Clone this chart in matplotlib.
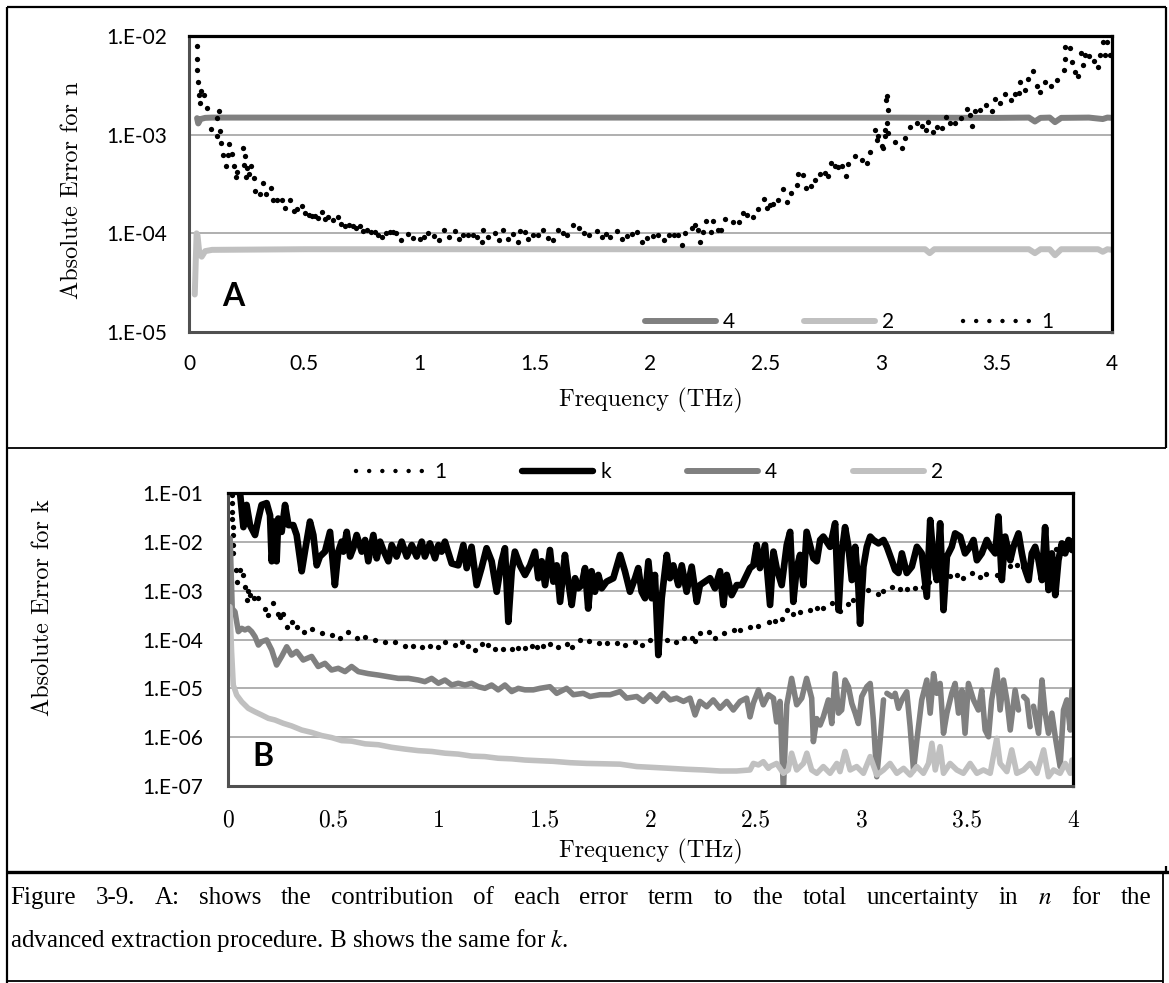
import numpy as np
import matplotlib
matplotlib.use("Agg")
import matplotlib.pyplot as plt
from matplotlib.lines import Line2D
from matplotlib.ticker import NullLocator

plt.rcParams['font.family'] = ['Lato', 'DejaVu Sans']
plt.rcParams['mathtext.fontset'] = 'stix'

# ----------------- Data -----------------
x_ticks = [0, 0.5, 1, 1.5, 2, 2.5, 3, 3.5, 4]
x_tick_labels = ["0", "0.5", "1", "1.5", "2", "2.5", "3", "3.5", "4"]
y_ticks_a = [1e-5, 1e-4, 1e-3, 1e-2]
y_labels_a = ["1.E-05", "1.E-04", "1.E-03", "1.E-02"]
y_ticks_b = [1e-7, 1e-6, 1e-5, 1e-4, 1e-3, 1e-2, 1e-1]
y_labels_b = ["1.E-07", "1.E-06", "1.E-05", "1.E-04", "1.E-03", "1.E-02", "1.E-01"]

# Panel A, term 4 (dark grey)
freq_n4 = [0.035, 0.040, 0.050, 0.070, 0.10, 1.0, 2.0, 3.0, 3.5, 3.64, 3.666, 3.69,
           3.73, 3.753, 3.78, 3.90, 3.96, 3.98, 4.0]
err_n4 = [1.47e-3, 1.30e-3, 1.44e-3, 1.48e-3, 1.49e-3, 1.49e-3, 1.49e-3, 1.49e-3, 1.48e-3,
          1.49e-3, 1.36e-3, 1.48e-3, 1.49e-3, 1.34e-3, 1.48e-3, 1.49e-3, 1.44e-3, 1.49e-3, 1.48e-3]

# Panel A, term 2 (light grey)
freq_n2 = [0.025, 0.030, 0.033, 0.037, 0.045, 0.055, 0.07, 0.1, 0.5, 1.5, 2.5, 3.19, 3.21,
           3.23, 3.64, 3.666, 3.69, 3.73, 3.753, 3.78, 3.94, 3.96, 3.98, 4.0]
err_n2 = [2.4e-5, 6.0e-5, 1.0e-4, 9.5e-5, 6.2e-5, 5.8e-5, 6.6e-5, 6.8e-5, 6.9e-5, 6.9e-5,
          6.9e-5, 6.9e-5, 6.3e-5, 6.9e-5, 6.9e-5, 6.3e-5, 6.9e-5, 6.9e-5, 6.0e-5, 6.9e-5,
          6.9e-5, 6.5e-5, 6.9e-5, 6.8e-5]

# Panel A, term 1 (dots)
freq_n1 = [0.033, 0.034, 0.036, 0.038, 0.042, 0.049, 0.052, 0.066, 0.076, 0.095,
           0.120, 0.123, 0.130, 0.134, 0.140, 0.146, 0.160, 0.169, 0.175, 0.186,
           0.196, 0.204, 0.209, 0.232, 0.240, 0.243, 0.248, 0.250, 0.262, 0.267,
           0.282, 0.286, 0.308, 0.322, 0.332, 0.354, 0.363, 0.380, 0.402, 0.416,
           0.438, 0.455, 0.470, 0.488, 0.503, 0.518, 0.532, 0.546, 0.560, 0.575,
           0.590, 0.604, 0.625, 0.647, 0.660, 0.676, 0.695, 0.712, 0.725, 0.741,
           0.755, 0.770, 0.790, 0.806, 0.820, 0.835, 0.855, 0.871,
           0.885, 0.897, 0.918, 0.950, 0.972, 1.001, 1.020, 1.037, 1.063, 1.085,
           1.106, 1.128, 1.153, 1.169, 1.189, 1.211, 1.230, 1.247, 1.268, 1.275,
           1.297, 1.326, 1.345, 1.362, 1.384, 1.405, 1.427, 1.434, 1.456, 1.471,
           1.492, 1.514, 1.536, 1.557, 1.579, 1.601, 1.619, 1.640, 1.666, 1.692,
           1.713, 1.735, 1.770, 1.789, 1.808, 1.825, 1.853, 1.875, 1.900, 1.920,
           1.940, 1.962, 1.983, 2.010, 2.034, 2.058, 2.082, 2.100, 2.121, 2.135,
           2.150, 2.179, 2.193, 2.208, 2.215, 2.226, 2.241, 2.262, 2.270, 2.294,
           2.306, 2.323, 2.359, 2.385, 2.403, 2.417, 2.443, 2.468, 2.490, 2.504,
           2.518, 2.533, 2.554,
           2.576, 2.590, 2.608, 2.634, 2.641, 2.659, 2.674, 2.694, 2.713, 2.734,
           2.756, 2.770, 2.781, 2.800, 2.814, 2.828, 2.847, 2.857, 2.886, 2.915,
           2.937, 2.951, 2.973, 2.980, 2.988, 3.002, 3.006, 3.017, 3.017, 3.021,
           3.024, 3.024, 3.028, 3.031, 3.060, 3.091, 3.103, 3.125, 3.154, 3.175,
           3.194, 3.204, 3.223, 3.240, 3.262, 3.279, 3.298, 3.320, 3.344, 3.370,
           3.385, 3.395, 3.406, 3.428, 3.454, 3.479, 3.493, 3.515, 3.536, 3.561,
           3.579, 3.599, 3.601, 3.623, 3.638, 3.659, 3.674, 3.688, 3.710, 3.735,
           3.761, 3.794, 3.797, 3.797, 3.818, 3.825, 3.840, 3.854, 3.866, 3.876,
           3.883, 3.902, 3.920, 3.941, 3.948, 3.962, 3.970, 3.977, 3.990]
err_n1 = [8.0e-3, 5.9e-3, 4.5e-3, 3.4e-3, 2.5e-3, 2.1e-3, 2.8e-3, 2.5e-3, 1.85e-3, 1.14e-3,
          9.8e-4, 1.47e-3, 1.73e-3, 1.10e-3, 8.2e-4, 6.2e-4, 4.8e-4, 6.2e-4, 8.0e-4, 6.4e-4,
          4.8e-4, 3.7e-4, 4.2e-4, 7.4e-4, 4.9e-4, 6.1e-4, 3.75e-4, 4.6e-4, 4.0e-4, 4.8e-4,
          3.6e-4, 2.7e-4, 2.5e-4, 3.2e-4, 2.5e-4, 2.86e-4, 2.2e-4, 2.2e-4, 2.2e-4, 1.8e-4,
          2.2e-4, 1.68e-4, 1.75e-4, 1.89e-4, 1.6e-4, 1.55e-4, 1.5e-4, 1.5e-4, 1.42e-4, 1.66e-4,
          1.40e-4, 1.48e-4, 1.36e-4, 1.45e-4, 1.25e-4, 1.19e-4, 1.21e-4, 1.18e-4, 1.12e-4, 1.18e-4,
          1.06e-4, 1.08e-4, 1.03e-4, 1.02e-4, 9.6e-5, 9.1e-5, 1.0e-4, 1.04e-4,
          1.02e-4, 1.0e-4, 8.6e-5, 9.8e-5, 8.9e-5, 8.7e-5, 9.2e-5, 1.0e-4, 9.3e-5, 8.5e-5,
          1.08e-4, 9.2e-5, 1.06e-4, 8.7e-5, 9.6e-5, 9.6e-5, 9.6e-5, 9.2e-5, 8.2e-5, 1.08e-4,
          9.2e-5, 1.0e-4, 8.6e-5, 1.09e-4, 8.7e-5, 9.9e-5, 8.2e-5, 1.06e-4, 1.02e-4, 8.7e-5,
          9.6e-5, 9.6e-5, 1.09e-4, 8.9e-5, 8.5e-5, 1.08e-4, 1.0e-4, 9.6e-5, 1.21e-4, 1.14e-4,
          1.0e-4, 9.6e-5, 1.06e-4, 9.2e-5, 9.8e-5, 9.2e-5, 1.06e-4, 8.8e-5, 9.5e-5, 9.8e-5,
          1.04e-4, 8.1e-5, 8.9e-5, 9.3e-5, 9.6e-5, 8.5e-5, 9.6e-5, 9.7e-5, 9.6e-5, 7.6e-5,
          1.0e-4, 1.12e-4, 1.21e-4, 1.08e-4, 8.2e-5, 1.04e-4, 1.32e-4, 1.02e-4, 1.33e-4, 1.08e-4,
          1.09e-4, 1.39e-4, 1.29e-4, 1.29e-4, 1.6e-4, 1.53e-4, 1.48e-4, 1.75e-4, 2.23e-4, 1.8e-4,
          1.94e-4, 2.0e-4, 2.2e-4,
          2.8e-4, 2.1e-4, 2.55e-4, 3.1e-4, 4.0e-4, 3.9e-4, 2.9e-4, 3.05e-4, 3.5e-4, 4.0e-4,
          4.05e-4, 3.8e-4, 5.2e-4, 4.8e-4, 4.65e-4, 4.8e-4, 3.8e-4, 5.0e-4, 6.1e-4, 5.5e-4,
          5.2e-4, 6.7e-4, 1.11e-3, 8.8e-4, 9.7e-4, 7.6e-4, 7.3e-4, 9.6e-4, 1.11e-3, 2.24e-3,
          1.3e-3, 2.47e-3, 1.78e-3, 1.04e-3, 8.5e-4, 7.3e-4, 9.3e-4, 1.2e-3, 1.3e-3, 1.22e-3,
          1.11e-3, 1.35e-3, 1.06e-3, 1.2e-3, 1.17e-3, 1.52e-3, 1.3e-3, 1.3e-3, 1.47e-3, 1.8e-3,
          1.58e-3, 1.22e-3, 1.73e-3, 1.76e-3, 2.0e-3, 1.74e-3, 2.28e-3, 2.1e-3, 2.6e-3, 2.24e-3,
          2.6e-3, 2.66e-3, 3.44e-3, 2.84e-3, 3.7e-3, 4.4e-3, 3.15e-3, 2.7e-3, 3.44e-3, 3.1e-3,
          3.6e-3, 4.5e-3, 7.8e-3, 5.9e-3, 7.5e-3, 5.4e-3, 4.35e-3, 3.9e-3, 6.7e-3, 5.1e-3,
          6.4e-3, 6.2e-3, 5.6e-3, 4.9e-3, 6.4e-3, 8.7e-3, 6.4e-3, 8.7e-3, 6.4e-3]

# Panel B, term 1 (dots)
freq_k1 = [0.020, 0.020, 0.021, 0.021, 0.022, 0.022, 0.025, 0.026, 0.036, 0.041,
           0.057, 0.073, 0.080, 0.088, 0.096, 0.104, 0.124, 0.142, 0.175, 0.191,
           0.215, 0.238, 0.246, 0.262, 0.278, 0.301, 0.325, 0.361, 0.399, 0.446,
           0.491, 0.530, 0.570, 0.609, 0.649, 0.696, 0.743, 0.791, 0.838, 0.878,
           0.917, 0.957, 0.996, 1.027, 1.075, 1.106, 1.138, 1.170, 1.200, 1.232,
           1.264, 1.303, 1.343, 1.374, 1.406, 1.438, 1.461, 1.493, 1.525, 1.564,
           1.604, 1.628, 1.667, 1.707, 1.754, 1.793, 1.841, 1.880, 1.928, 1.959,
           1.999, 2.040, 2.078, 2.122, 2.157, 2.196, 2.212, 2.236, 2.275, 2.307,
           2.346, 2.393, 2.425, 2.472, 2.507, 2.559, 2.590, 2.622, 2.645, 2.676,
           2.708, 2.755, 2.787, 2.818, 2.858, 2.897, 2.937, 2.960, 2.992, 3.031,
           3.078, 3.102, 3.141, 3.181, 3.212, 3.252, 3.291, 3.320, 3.354, 3.386,
           3.420, 3.449, 3.480, 3.520, 3.559, 3.590, 3.638, 3.670, 3.700, 3.733,
           3.765, 3.800, 3.840, 3.880, 3.920, 3.954, 3.970, 3.986]
err_k1 = [9.1e-2, 6.2e-2, 4.1e-2, 3.0e-2, 2.0e-2, 1.4e-2, 8.6e-3, 5.8e-3, 2.65e-3, 1.53e-3,
          2.65e-3, 2.1e-3, 1.2e-3, 6.5e-4, 9.8e-4, 8.1e-4, 7.0e-4, 7.0e-4, 4.3e-4, 3.2e-4,
          5.5e-4, 3.4e-4, 2.9e-4, 3.4e-4, 1.83e-4, 2.3e-4, 1.83e-4, 1.45e-4, 1.64e-4, 1.38e-4,
          1.24e-4, 1.09e-4, 1.45e-4, 1.09e-4, 1.14e-4, 9.8e-5, 9.0e-5, 8.7e-5, 7.4e-5, 7.5e-5,
          7.1e-5, 7.5e-5, 7.1e-5, 8.7e-5, 7.7e-5, 9.0e-5, 7.5e-5, 6.1e-5, 8.0e-5, 7.7e-5,
          6.4e-5, 6.4e-5, 6.4e-5, 6.8e-5, 6.6e-5, 7.5e-5, 7.0e-5, 7.4e-5, 7.9e-5, 7.0e-5,
          7.9e-5, 7.0e-5, 9.8e-5, 9.4e-5, 8.4e-5, 8.4e-5, 8.4e-5, 7.7e-5, 9.0e-5, 7.7e-5,
          9.8e-5, 9.6e-5, 1.0e-4, 8.7e-5, 1.09e-4, 1.09e-4, 9.5e-5, 1.34e-4, 1.45e-4, 1.09e-4,
          1.34e-4, 1.56e-4, 1.56e-4, 1.83e-4, 1.9e-4, 2.25e-4, 2.4e-4, 2.6e-4, 4.0e-4, 3.4e-4,
          3.7e-4, 4.0e-4, 4.4e-4, 4.5e-4, 5.5e-4, 3.9e-4, 5.3e-4, 6.5e-4, 7.8e-4, 1.03e-3,
          8.4e-4, 1.0e-3, 1.2e-3, 1.1e-3, 1.1e-3, 1.15e-3, 1.2e-3, 1.5e-3, 1.94e-3, 1.94e-3,
          2.0e-3, 2.1e-3, 1.8e-3, 2.3e-3, 1.94e-3, 2.2e-3, 2.1e-3, 3.5e-3, 3.2e-3, 3.4e-3,
          3.1e-3, 4.0e-3, 4.6e-3, 5.5e-3, 7.0e-3, 9.3e-3, 8.0e-3, 1.1e-2]

# Panel B, total k (black)
freq_k = [0.015, 0.057, 0.073, 0.088, 0.104, 0.128, 0.144, 0.159, 0.183, 0.199,
          0.207, 0.222, 0.230, 0.238, 0.254, 0.270, 0.286, 0.309, 0.325, 0.349,
          0.364, 0.388, 0.404, 0.420, 0.435, 0.459, 0.483, 0.506, 0.522, 0.538,
          0.546, 0.562, 0.578, 0.593, 0.609, 0.633, 0.649, 0.664, 0.688, 0.704,
          0.720, 0.735, 0.759, 0.775, 0.798, 0.822, 0.846, 0.870, 0.893, 0.917,
          0.932, 0.956, 0.980, 0.996, 1.011, 1.027, 1.059, 1.090, 1.114, 1.130,
          1.153, 1.177, 1.200, 1.224, 1.248, 1.272, 1.295, 1.311, 1.327, 1.343,
          1.358, 1.382, 1.406, 1.430, 1.453, 1.469, 1.485, 1.501, 1.524, 1.540,
          1.556, 1.572, 1.595, 1.611, 1.627, 1.643, 1.658, 1.674, 1.690, 1.705,
          1.721, 1.737, 1.753, 1.769, 1.792, 1.824, 1.856, 1.879, 1.903, 1.927,
          1.942, 1.958, 1.974, 1.990, 2.006, 2.021, 2.037, 2.053, 2.077, 2.092,
          2.108, 2.132, 2.148, 2.171, 2.195, 2.219, 2.234, 2.258, 2.282, 2.305,
          2.329, 2.345, 2.361, 2.384, 2.408, 2.432, 2.471, 2.487, 2.503, 2.518,
          2.542, 2.566, 2.582, 2.597, 2.621, 2.645, 2.661, 2.676, 2.692, 2.708,
          2.724, 2.739, 2.755, 2.771, 2.787, 2.803, 2.818, 2.850, 2.874, 2.890,
          2.905, 2.921, 2.937, 2.953, 2.969, 2.984, 2.992, 3.008, 3.024, 3.040,
          3.055, 3.079, 3.103, 3.119, 3.142, 3.158, 3.174, 3.190, 3.213, 3.237,
          3.261, 3.284, 3.308, 3.324, 3.340, 3.355, 3.371, 3.387, 3.403, 3.426,
          3.442, 3.466, 3.489, 3.513, 3.529, 3.545, 3.568, 3.592, 3.608, 3.632,
          3.647, 3.663, 3.679, 3.703, 3.718, 3.742, 3.758, 3.774, 3.790, 3.805,
          3.821, 3.837, 3.853, 3.868, 3.884, 3.900, 3.916, 3.931, 3.947, 3.963,
          3.979, 3.995]
err_k = [0.12, 0.10, 0.020, 0.057, 0.022, 0.0138, 0.030, 0.057, 0.062, 0.035,
         0.0040, 0.026, 0.0040, 0.030, 0.016, 0.057, 0.022, 0.022, 0.0138, 0.0025,
         0.0063, 0.026, 0.0138, 0.0033, 0.0050, 0.0063, 0.016, 0.0013, 0.0063, 0.0101,
         0.0063, 0.016, 0.0050, 0.0074, 0.0138, 0.0063, 0.0109, 0.0040, 0.0138, 0.0046,
         0.0101, 0.0068, 0.0040, 0.0086, 0.0050, 0.0101, 0.0050, 0.0086, 0.0050, 0.0101,
         0.0050, 0.0093, 0.0046, 0.0086, 0.0063, 0.0101, 0.0036, 0.0033, 0.0086, 0.0029,
         0.0079, 0.0013, 0.0029, 0.0074, 0.0040, 0.00095, 0.0040, 0.0074, 0.00023, 0.0025,
         0.0063, 0.0033, 0.0021, 0.0033, 0.0063, 0.0018, 0.0040, 0.0013, 0.0068, 0.00153,
         0.0033, 0.00059, 0.0054, 0.00153, 0.00051, 0.0018, 0.00112, 0.0013, 0.0029, 0.00043,
         0.0025, 0.00095, 0.0021, 0.00112, 0.00153, 0.0018, 0.0054, 0.0025, 0.00095, 0.0018,
         0.0029, 0.00095, 0.0007, 0.0040, 0.0007, 0.0021, 4.8e-5, 0.0007, 0.0054, 0.0018,
         0.0033, 0.0013, 0.0033, 0.00095, 0.0031, 0.00059, 0.0013, 0.00153, 0.0018, 0.00112,
         0.0025, 0.00051, 0.0021, 0.00081, 0.0013, 0.0013, 0.0029, 0.0033, 0.0086, 0.0029,
         0.0086, 0.00051, 0.0063, 0.0029, 0.0013, 0.0086, 0.016, 0.00059, 0.0029, 0.0054,
         0.0013, 0.016, 0.0086, 0.0046, 0.0040, 0.0109, 0.0128, 0.0079, 0.024, 0.0004,
         0.0058, 0.020, 0.0079, 0.00165, 0.0079, 0.0012, 0.00021, 0.0031, 0.0079, 0.0128,
         0.0109, 0.0093, 0.0109, 0.0079, 0.0042, 0.00265, 0.0023, 0.0058, 0.0023, 0.0031,
         0.0079, 0.0058, 0.00075, 0.028, 0.0042, 0.00165, 0.024, 0.0004, 0.0050, 0.0079,
         0.0149, 0.0128, 0.0058, 0.0079, 0.0109, 0.0042, 0.0058, 0.0109, 0.0079, 0.0058,
         0.033, 0.00165, 0.0128, 0.0042, 0.0079, 0.0149, 0.0058, 0.00265, 0.00165, 0.0058,
         0.0079, 0.0042, 0.00165, 0.020, 0.00103, 0.0058, 0.00081, 0.0042, 0.0093, 0.0058,
         0.0109, 0.0068]

# Panel B, term 4 (dark grey); nan = gap in the trace
freq_k4 = [0.010, 0.020, 0.033, 0.049, 0.065, 0.080, 0.096, 0.112, 0.128, 0.144,
           0.159, 0.183, 0.207, 0.230, 0.254, 0.278, 0.301, 0.325, 0.356, 0.396,
           0.427, 0.459, 0.490, 0.522, 0.554, 0.585, 0.617, 0.664, 0.712, 0.759,
           0.806, 0.854, 0.901, 0.932, 0.964, 0.996, 1.027, 1.059, 1.090, 1.122,
           1.153, 1.185, 1.216, 1.248, 1.279, 1.311, 1.343, 1.374, 1.406, 1.445,
           1.477, 1.524, 1.556, 1.603, 1.635, 1.682, 1.714, 1.761, 1.809, 1.856,
           1.887, 1.935, 1.966, 1.998, 2.030, 2.061, 2.093, 2.124, 2.156, 2.187,
           2.211, 2.234, 2.266, 2.297, 2.329, 2.361, 2.392, 2.424, 2.455, 2.471,
           2.487, 2.511, 2.534, 2.558, 2.582, 2.597, 2.613, 2.629, 2.645, 2.668,
           2.692, 2.716, 2.739, 2.763, 2.771, 2.787, 2.803, 2.818, 2.842, 2.858,
           2.874, 2.890, 2.905, 2.921, 2.937, 2.953, 2.969, 2.984, 3.000, 3.024,
           3.040, 3.055, 3.071, 3.087, 3.103, 3.111, 3.119, 3.142, 3.150, 3.158,
           3.174, 3.190, 3.213, 3.229, 3.245, 3.261, 3.284, 3.308, 3.324, 3.340,
           3.355, 3.371, 3.387, 3.403, 3.426, 3.442, 3.458, 3.474, 3.489, 3.505,
           3.529, 3.552, 3.568, 3.584, 3.600, 3.615, 3.639, 3.655, 3.671, 3.687,
           3.703, 3.726, 3.742, 3.754, 3.766, 3.782, 3.797, 3.805, 3.813, 3.837,
           3.853, 3.868, 3.884, 3.900, 3.916, 3.939, 3.955, 3.971, 3.987, 3.995]
err_k4 = [1.18e-2, 4.3e-4, 3.7e-4, 1.45e-4, 1.69e-4, 1.57e-4, 1.69e-4, 1.45e-4, 1.14e-4, 7.7e-5,
          9.0e-5, 9.8e-5, 6.1e-5, 3.0e-5, 4.5e-5, 7.1e-5, 4.8e-5, 5.7e-5, 3.8e-5, 4.5e-5,
          2.8e-5, 3.25e-5, 2.37e-5, 2.57e-5, 2.2e-5, 2.8e-5, 2.2e-5, 2.0e-5, 1.87e-5, 1.73e-5,
          1.6e-5, 1.6e-5, 1.48e-5, 1.37e-5, 1.6e-5, 1.27e-5, 1.48e-5, 1.17e-5, 1.27e-5, 1.17e-5,
          1.27e-5, 1.08e-5, 1.0e-5, 1.17e-5, 9.3e-6, 1.17e-5, 8.6e-6, 1.0e-5, 9.3e-6, 9.3e-6,
          1.0e-5, 1.08e-5, 7.9e-6, 1.0e-5, 7.4e-6, 7.9e-6, 6.8e-6, 7.4e-6, 7.4e-6, 8.6e-6,
          6.3e-6, 6.8e-6, 5.4e-6, 7.4e-6, 5.4e-6, 7.9e-6, 5.8e-6, 6.3e-6, 5.4e-6, 6.3e-6,
          2.85e-6, 5.4e-6, 4.2e-6, 5.8e-6, 3.9e-6, 5.4e-6, 3.6e-6, 5.4e-6, 6.3e-6, 2.6e-6,
          5.0e-6, 9.3e-6, 4.6e-6, 7.4e-6, 6.3e-6, 2.05e-6, 5.4e-6, 8e-8, 4.6e-6, 1.6e-5,
          4.6e-6, 6.3e-6, 1.6e-5, 6.3e-6, 8.1e-7, 2.4e-6, 1.77e-6, 2.6e-6, 5.8e-6, 1.9e-6,
          2.0e-5, 3.1e-6, 3.6e-6, 1.48e-5, 1.08e-5, 4.9e-6, 3.1e-6, 1.9e-6, 6.8e-6, 1.08e-5,
          1.26e-5, 2.25e-6, 1.55e-7, 8.7e-7, 5.8e-6, np.nan, 7.9e-6, 6.8e-6, np.nan, 7.9e-6,
          3.9e-6, 5.8e-6, 8.5e-6, 1.64e-6, 2.1e-7, 8.7e-7, 5.8e-6, 1.48e-5, 3.1e-6, 2.0e-5,
          7.9e-6, 1.26e-5, 1.2e-6, 3.1e-6, 7.9e-6, 1.26e-5, 3.1e-6, 9.2e-6, 1.2e-6, 1.26e-5,
          5.8e-6, 3.6e-6, 9.2e-6, 1.4e-6, 1.02e-6, 5.8e-6, 2.37e-5, 3.6e-6, 1.48e-5, 5.8e-6,
          1.4e-6, 9.2e-6, 3.6e-6, np.nan, 6.8e-6, 5.8e-6, 1.64e-6, np.nan, 4.3e-6, 1.2e-6,
          1.48e-5, 3.1e-6, 1.2e-6, 3.1e-6, 1.02e-6, 2.5e-7, 3.6e-6, 5.8e-6, 1.4e-6, 9.2e-6]

# Panel B, term 2 (light grey)
freq_k2 = [0.009, 0.017, 0.025, 0.041, 0.065, 0.096, 0.128, 0.159, 0.191, 0.222,
           0.262, 0.301, 0.349, 0.396, 0.443, 0.491, 0.538, 0.585, 0.649, 0.712,
           0.775, 0.838, 0.901, 0.964, 1.027, 1.090, 1.153, 1.216, 1.279, 1.343,
           1.406, 1.470, 1.540, 1.620, 1.698, 1.780, 1.856, 1.935, 2.014, 2.093,
           2.171, 2.250, 2.329, 2.408, 2.471, 2.487, 2.511, 2.534, 2.558, 2.566,
           2.597, 2.629, 2.652, 2.668, 2.692, 2.724, 2.740, 2.763, 2.787, 2.818,
           2.850, 2.882, 2.897, 2.921, 2.945, 2.976, 3.008, 3.040, 3.071, 3.103,
           3.134, 3.166, 3.198, 3.229, 3.261, 3.292, 3.316, 3.332, 3.348, 3.371,
           3.387, 3.418, 3.450, 3.481, 3.513, 3.545, 3.576, 3.608, 3.639, 3.655,
           3.687, 3.710, 3.734, 3.766, 3.797, 3.829, 3.861, 3.884, 3.908, 3.939,
           3.963, 3.987, 3.995]
err_k2 = [4.7e-4, 5.6e-5, 1.17e-5, 7.3e-6, 5.3e-6, 3.9e-6, 3.3e-6, 2.85e-6, 2.43e-6, 2.25e-6,
          1.92e-6, 1.70e-6, 1.40e-6, 1.25e-6, 1.08e-6, 9.8e-7, 8.5e-7, 8.3e-7, 7.3e-7, 7.0e-7,
          6.2e-7, 5.7e-7, 5.3e-7, 5.1e-7, 4.7e-7, 4.5e-7, 4.1e-7, 4.0e-7, 3.7e-7, 3.6e-7,
          3.4e-7, 3.3e-7, 3.2e-7, 3.0e-7, 2.9e-7, 2.85e-7, 2.8e-7, 2.5e-7, 2.4e-7, 2.3e-7,
          2.2e-7, 2.13e-7, 2.03e-7, 2.03e-7, 2.13e-7, 2.9e-7, 2.7e-7, 3.15e-7, 2.3e-7, 2.5e-7,
          2.9e-7, 1.82e-7, 2.13e-7, 4.7e-7, 2.13e-7, 2.9e-7, 4.7e-7, 2.13e-7, 1.82e-7, 2.5e-7,
          1.82e-7, 2.9e-7, 1.97e-7, 5.1e-7, 2.13e-7, 2.5e-7, 1.82e-7, 4.0e-7, 1.68e-7, 2.13e-7,
          2.9e-7, 1.82e-7, 2.3e-7, 1.68e-7, 2.5e-7, 1.82e-7, 2.9e-7, 7.5e-7, 2.13e-7, 6.4e-7,
          1.82e-7, 2.9e-7, 2.13e-7, 1.82e-7, 2.9e-7, 1.82e-7, 2.13e-7, 1.82e-7, 9.5e-7, 2.9e-7,
          1.97e-7, 5.5e-7, 1.82e-7, 2.13e-7, 2.9e-7, 1.82e-7, 5.5e-7, 1.55e-7, 2.13e-7, 1.82e-7,
          2.9e-7, 1.82e-7, 3.4e-7]

caption_1 = ("Figure 3-9. A: shows the contribution of each error term to the total "
             "uncertainty in $n$ for the")
caption_2 = "advanced extraction procedure. B shows the same for $k$."

# ----------------- Layout helpers (pixel units of the 1169x983 page) -----------------
W, H = 1169, 983
DARK, LIGHT = '#808080', '#c0c0c0'
cm_font = 'cmr10'


def fx(x):
    return x / W


def fy(y):
    return 1 - y / H


def add_axes_px(left, top, right, bottom):
    return fig.add_axes([fx(left), fy(bottom), (right - left) / W, (bottom - top) / H])


def frame_line(x0, y0, x1, y1, lw):
    fig.add_artist(Line2D([fx(x0), fx(x1)], [fy(y0), fy(y1)], transform=fig.transFigure,
                          color='black', lw=lw, solid_capstyle='butt'))


def style_axes(ax, yticks, ylabels):
    ax.set_yscale('log')
    ax.set_xlim(0, 4)
    ax.set_ylim(yticks[0], yticks[-1])
    ax.set_yticks(yticks)
    ax.set_yticklabels(ylabels)
    ax.yaxis.set_minor_locator(NullLocator())
    ax.set_xticks(x_ticks)
    ax.set_xticklabels(x_tick_labels)
    ax.tick_params(length=0, labelsize=15)
    ax.grid(axis='y', color='#9a9a9a', lw=1.1)
    ax.set_axisbelow(True)
    for side in ('top', 'right'):
        ax.spines[side].set_linewidth(2.3)
        ax.spines[side].set_color('black')
    for side in ('left', 'bottom'):
        ax.spines[side].set_linewidth(2.2)
        ax.spines[side].set_color('#505050')


def justified_line(text, x_left, x_right, y, style):
    # spread the words of one caption line over the full width, like the source document
    words = text.split(' ')
    renderer = fig.canvas.get_renderer()
    items = [fig.text(0, fy(y), w, **style) for w in words]
    widths = [t.get_window_extent(renderer).width for t in items]
    gap = (x_right - x_left - sum(widths)) / (len(words) - 1)
    x = x_left
    for t, w in zip(items, widths):
        t.set_x(fx(x))
        x += w + gap


dot_style = dict(linestyle='none', marker='o', ms=3.8, mew=0, color='black')
dot_handle = Line2D([], [], color='black', lw=3.2, linestyle=(0, (0.01, 2.95)),
                    dash_capstyle='round')

fig = plt.figure(figsize=(11.69, 9.83), dpi=100)

# ----------------- Panel A -----------------
ax_a = add_axes_px(189, 36, 1112, 332)
style_axes(ax_a, y_ticks_a, y_labels_a)
ax_a.tick_params(axis='x', pad=16)
ax_a.tick_params(axis='y', pad=16)

ax_a.plot(freq_n4, err_n4, color=DARK, lw=4.3, solid_capstyle='round', solid_joinstyle='round')
ax_a.plot(freq_n2, err_n2, color=LIGHT, lw=4.3, solid_capstyle='round', solid_joinstyle='round')
ax_a.plot(freq_n1, err_n1, **dot_style)

ax_a.set_xlabel("Frequency (THz)", family=cm_font, fontsize=17.5)
ax_a.xaxis.set_label_coords(0.5, (332 - 400) / 296)
ax_a.xaxis.label.set_va('center')
ax_a.set_ylabel("Absolute Error for n", family=cm_font, fontsize=17.5)
ax_a.yaxis.set_label_coords((72 - 189) / 923, (332 - 190) / 296)
ax_a.yaxis.label.set_va('center')
ax_a.text((222 - 189) / 923, (332 - 297) / 296, "A", transform=ax_a.transAxes,
          fontsize=23, fontweight='bold', va='center', ha='left')

h_a = [Line2D([], [], color=DARK, lw=4.3, solid_capstyle='round'),
       Line2D([], [], color=LIGHT, lw=4.3, solid_capstyle='round'),
       dot_handle]
ax_a.legend(h_a, ["4", "2", "1"], ncol=3, loc='center left',
            bbox_to_anchor=((645 - 189) / 923, (332 - 322) / 296), frameon=False,
            fontsize=15, handlelength=3.4, handletextpad=0.35, columnspacing=3.3,
            borderpad=0, borderaxespad=0)

# ----------------- Panel B -----------------
ax_b = add_axes_px(228, 493, 1073, 786)
style_axes(ax_b, y_ticks_b, y_labels_b)
ax_b.tick_params(axis='x', pad=17, labelsize=17)
ax_b.tick_params(axis='y', pad=18)
for lab in ax_b.get_xticklabels():
    lab.set_family(cm_font)

ax_b.plot(freq_k1, err_k1, **dot_style)
ax_b.plot(freq_k, err_k, color='black', lw=4.8, solid_joinstyle='round', solid_capstyle='round')
ax_b.plot(freq_k4, err_k4, color=DARK, lw=4.0, solid_joinstyle='round', solid_capstyle='round')
ax_b.plot(freq_k2, err_k2, color=LIGHT, lw=4.0, solid_joinstyle='round', solid_capstyle='round')

ax_b.set_xlabel("Frequency (THz)", family=cm_font, fontsize=17.5)
ax_b.xaxis.set_label_coords(0.5, (786 - 851) / 293)
ax_b.xaxis.label.set_va('center')
ax_b.set_ylabel("Absolute Error for k", family=cm_font, fontsize=17.5)
ax_b.yaxis.set_label_coords((43 - 228) / 845, (786 - 608) / 293)
ax_b.yaxis.label.set_va('center')
ax_b.text((252 - 228) / 845, (786 - 756) / 293, "B", transform=ax_b.transAxes,
          fontsize=23, fontweight='bold', va='center', ha='left')

h_b = [dot_handle,
       Line2D([], [], color='black', lw=4.6, solid_capstyle='round'),
       Line2D([], [], color=DARK, lw=4.3, solid_capstyle='round'),
       Line2D([], [], color=LIGHT, lw=4.3, solid_capstyle='round')]
ax_b.legend(h_b, ["1", "k", "4", "2"], ncol=4, loc='center left',
            bbox_to_anchor=((356 - 228) / 845, (786 - 472) / 293), frameon=False,
            fontsize=15, handlelength=3.4, handletextpad=0.35, columnspacing=3.65,
            borderpad=0, borderaxespad=0)

# ----------------- Page frame and caption -----------------
frame_line(7, 7, 1166, 7, 1.6)
frame_line(7, 7, 7, 983, 1.6)
frame_line(1166, 7, 1166, 448, 1.6)
frame_line(7, 448, 1166, 448, 1.3)
frame_line(1166, 866, 1166, 872, 1.6)
frame_line(7, 872, 1169, 872, 2.4)
frame_line(1163, 872, 1163, 983, 1.3)
frame_line(7, 981, 1163, 981, 1.3)

cap_style = dict(family='Liberation Serif', fontsize=18, va='center', ha='left')
justified_line(caption_1, 10, 1151, 898, cap_style)
fig.text(fx(10), fy(940), caption_2, **cap_style)

fig.savefig("out.png", dpi=100)
